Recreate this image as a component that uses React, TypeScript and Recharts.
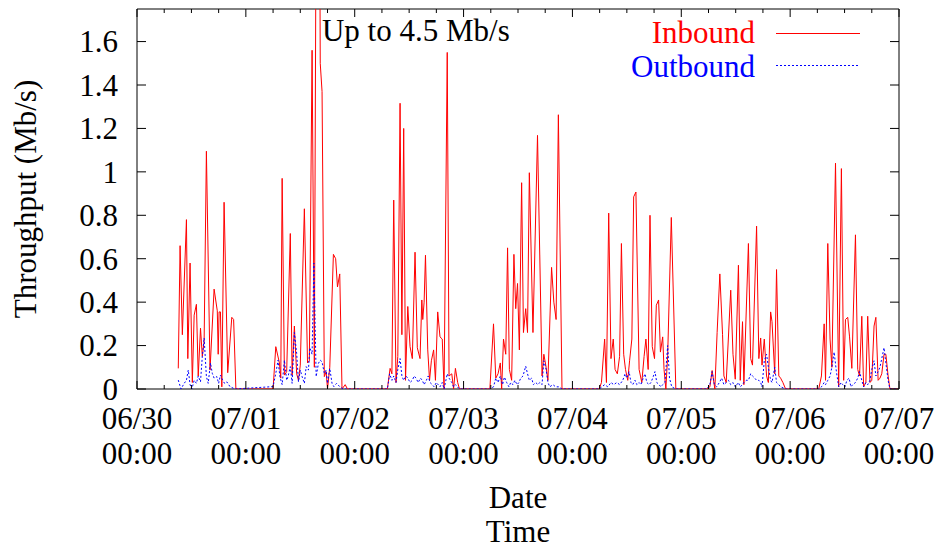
import React from 'react';
import { LineChart, Line, XAxis, YAxis, ReferenceArea, ReferenceDot, Legend } from 'recharts';

// hours counted from 06/30 00:00, throughput in Mb/s
const inboundHours = [
  9.1, 9.5, 10.0, 10.9, 11.2, 11.7, 12.2, 12.6, 13.1, 13.5, 14.0, 14.4, 14.8, 15.3, 16.1, 17.0, 17.7, 17.9, 18.1, 18.4, 18.7, 19.2, 20.0, 20.9, 21.3, 21.8,
  30.0, 30.6, 31.4, 31.7, 32.0, 32.5, 33.0, 33.8, 34.2, 34.7, 35.2, 35.6, 36.0, 36.9, 37.6, 38.0, 38.6, 39.1, 39.9, 40.4, 40.8, 41.3, 41.7, 42.0, 42.5, 43.3, 43.8, 44.2, 44.7, 45.2, 45.9, 46.4,
  55.2, 55.8, 56.2, 56.6, 57.1, 57.5, 58.0, 58.4, 58.8, 59.2, 59.7, 60.2, 60.7, 61.3, 61.8, 62.4, 62.8, 63.0, 63.3, 63.6, 64.1, 64.5, 64.9, 65.4, 65.8, 66.3, 66.8, 67.3, 67.7, 68.4, 68.8, 69.4, 69.8, 70.2, 70.7, 71.1,
  77.8, 78.6, 79.1, 79.6, 80.1, 80.4, 80.8, 81.3, 81.7, 82.1, 82.6, 83.1, 83.5, 83.9, 84.3, 84.8, 85.2, 85.7, 86.1, 86.5, 87.3, 88.3, 89.3, 89.7, 90.2, 90.6, 91.4, 91.9, 92.4, 92.9, 93.7,
  101.9, 102.4, 103.1, 103.5, 104.0, 104.5, 105.0, 105.4, 105.9, 106.4, 106.8, 107.3, 107.7, 108.2, 108.6, 109.1, 109.5, 110.0, 110.7, 111.3, 111.8, 112.2, 112.7, 113.1, 113.6, 114.1, 114.5, 115.0, 115.4, 115.9, 116.2, 116.6, 117.0, 117.8, 118.8,
  125.6, 126.3, 126.8, 127.4, 127.9, 128.5, 129.1, 129.4, 129.9, 130.9, 131.4, 131.9, 132.6, 133.0, 133.5, 133.8, 134.8, 135.3, 135.7, 136.6, 137.1, 137.5, 137.8, 138.3, 138.8, 139.2, 139.7, 140.0, 140.6, 141.0, 141.5, 141.9, 142.4, 143.0,
  150.3, 150.9, 151.5, 151.8, 152.3, 152.8, 153.2, 154.0, 154.7, 155.3, 155.8, 156.2, 156.7, 157.1, 157.6, 158.4, 158.9, 159.3, 159.8, 160.2, 160.7, 161.1, 161.6, 162.0, 162.5, 162.9, 163.4, 163.8, 164.2, 164.7, 165.1, 165.6, 166.0, 167.8,
];

const inboundMbps = [
  0.095, 0.66, 0.25, 0.78, 0.14, 0.58, 0.03, 0.34, 0.39, 0.06, 0.28, 0.15, 0.22, 1.095, 0.087, 0.46, 0.36, 0.16, 0.355, 0.355, 0.01, 0.86, 0.075, 0.33, 0.32, 0,
  0, 0.195, 0.12, 0.05, 0.97, 0.064, 0.08, 0.716, 0.064, 0.29, 0.07, 0.04, 0.11, 0.83, 0.12, 0.13, 1.56, 0.1, 4.5, 1.5, 1.37, 0.057, 0.08, 0, 0.1, 0.62, 0.6, 0.47, 0.53, 0, 0.02, 0,
  0, 0.095, 0.07, 0.87, 0.03, 0.15, 1.316, 0.25, 1.2, 0.04, 0.38, 0.195, 0.14, 0.63, 0.19, 0.14, 0.41, 0.32, 0.4, 0.616, 0.18, 0.04, 0.13, 0.18, 0.04, 0.355, 0.24, 0.23, 0, 1.55, 0.06, 0.07, 0, 0.095, 0.03, 0,
  0, 0.3, 0.05, 0.07, 0.12, 0, 0.23, 0.16, 0.65, 0.09, 0.04, 0.62, 0.37, 0.486, 0.18, 0.95, 0.26, 0.37, 0.26, 0.996, 0.26, 1.168, 0.06, 0.16, 0.1, 0.04, 0.56, 0.4, 0.32, 1.263, 0,
  0, 0.03, 0.23, 0.03, 0.81, 0.14, 0.23, 0.09, 0.07, 0.15, 0.67, 0.16, 0.09, 0.04, 0.13, 0.23, 0.885, 0.907, 0.09, 0.03, 0.15, 0.23, 0.09, 0.8, 0.195, 0.14, 0.386, 0.41, 0.17, 0.24, 0.09, 0, 0.155, 0.79, 0,
  0, 0.01, 0.085, 0, 0.26, 0.53, 0.25, 0.06, 0.03, 0.455, 0.16, 0.045, 0.57, 0.04, 0.31, 0.02, 0.67, 0.14, 0.11, 0.75, 0.14, 0.235, 0.11, 0.23, 0.06, 0.03, 0.355, 0.31, 0.07, 0.55, 0.06, 0.05, 0.03, 0,
  0, 0.06, 0.3, 0.04, 0.67, 0.23, 0.1, 1.04, 0.01, 1.015, 0.04, 0.32, 0.33, 0.24, 0.095, 0.71, 0.09, 0.06, 0.335, 0.01, 0.03, 0.335, 0.03, 0.04, 0.29, 0.33, 0.04, 0.05, 0.07, 0.16, 0.16, 0.06, 0, 0,
];

const outboundHours = [
  9.1, 9.7, 10.4, 10.9, 11.3, 11.7, 12.1, 12.6, 13.1, 13.5, 14.0, 14.4, 14.8, 15.3, 15.7, 16.2, 16.6, 17.0, 17.6, 18.0, 18.4, 18.9, 19.3, 19.8, 20.5, 21.6,
  30.0, 30.6, 31.1, 31.5, 32.0, 32.5, 33.0, 33.3, 33.8, 34.2, 34.7, 35.2, 35.6, 36.0, 36.4, 36.9, 37.3, 37.8, 38.1, 38.6, 39.0, 39.5, 40.0, 40.4, 40.8, 41.3, 41.7, 42.0, 42.5, 43.0, 43.4, 44.0, 44.7, 45.5,
  55.2, 55.7, 56.2, 56.6, 57.1, 57.5, 58.0, 58.4, 58.8, 59.3, 59.7, 60.2, 60.7, 61.1, 61.5, 62.0, 62.5, 62.9, 63.3, 63.8, 64.2, 64.6, 65.1, 65.5, 66.0, 66.4, 66.8, 67.3, 67.7, 68.4, 68.8, 69.4, 69.8, 70.2, 71.1,
  77.8, 78.6, 79.1, 79.6, 80.1, 80.6, 81.0, 81.5, 82.0, 82.4, 82.9, 83.3, 83.8, 84.2, 84.6, 85.1, 85.7, 86.1, 86.5, 87.0, 87.4, 87.9, 88.4, 88.8, 89.3, 89.7, 90.2, 90.6, 91.0, 91.7, 92.3, 93.0, 93.7,
  101.9, 102.5, 103.1, 103.8, 104.5, 105.1, 105.8, 106.4, 107.1, 107.6, 108.0, 108.5, 108.9, 109.3, 109.8, 110.2, 110.7, 111.1, 111.6, 112.0, 112.4, 112.9, 113.3, 113.7, 114.2, 114.6, 115.1, 115.5, 115.9, 116.4, 117.0, 117.4, 117.9, 118.8,
  125.6, 126.3, 126.8, 127.3, 127.8, 128.4, 128.9, 129.4, 129.9, 130.4, 130.9, 131.4, 131.9, 132.6, 133.0, 133.5, 133.8, 134.3, 134.8, 135.3, 135.7, 136.2, 136.6, 137.1, 137.5, 137.8, 138.3, 138.8, 139.2, 139.7, 140.0, 140.6, 141.0, 141.5, 141.9, 143.0,
  150.3, 150.9, 151.5, 151.8, 152.3, 152.8, 153.2, 153.7, 154.2, 154.7, 155.2, 155.6, 156.1, 156.5, 157.0, 157.4, 157.8, 158.4, 158.9, 159.3, 159.8, 160.2, 160.7, 161.1, 161.6, 162.0, 162.5, 162.9, 163.4, 163.8, 164.2, 164.7, 165.1, 165.6, 166.0, 167.8,
];

const outboundMbps = [
  0.041, 0, 0.026, 0.04, 0.087, 0.02, 0, 0.04, 0.026, 0.06, 0.033, 0.15, 0.235, 0.057, 0.026, 0.12, 0.072, 0.05, 0.057, 0.026, 0.064, 0.04, 0.026, 0.033, 0.011, 0,
  0.011, 0.072, 0.133, 0.057, 0.02, 0.133, 0.04, 0.057, 0.103, 0.026, 0.26, 0.164, 0.033, 0.087, 0.057, 0.026, 0.103, 0.087, 0.19, 0.16, 0.58, 0.057, 0.118, 0.133, 0.125, 0.072, 0.087, 0.026, 0.095, 0.026, 0.011, 0.026, 0.011, 0,
  0, 0.07, 0.04, 0.06, 0.03, 0.09, 0.14, 0.06, 0.04, 0.06, 0.05, 0.03, 0.04, 0.06, 0.05, 0.03, 0.05, 0.04, 0.02, 0.04, 0.06, 0.03, 0.02, 0.01, 0.03, 0.02, 0.01, 0.03, 0, 0.07, 0.05, 0.03, 0.01, 0.02, 0,
  0, 0.01, 0.05, 0.03, 0.06, 0.02, 0.055, 0.03, 0.01, 0.03, 0.02, 0.04, 0.02, 0.03, 0.05, 0.06, 0.105, 0.07, 0.04, 0.05, 0.02, 0.03, 0.02, 0.03, 0.02, 0.13, 0.09, 0.03, 0.01, 0.02, 0.01, 0.01, 0,
  0, 0.01, 0.02, 0.01, 0.03, 0.02, 0.03, 0.02, 0.04, 0.07, 0.05, 0.08, 0.03, 0.02, 0.04, 0.02, 0.03, 0.02, 0.05, 0.07, 0.03, 0.02, 0.03, 0.05, 0.08, 0.03, 0.02, 0.01, 0.02, 0.03, 0.2, 0.05, 0.01, 0,
  0, 0.02, 0.08, 0.02, 0.01, 0.03, 0.05, 0.02, 0.03, 0.04, 0.02, 0.03, 0.01, 0.03, 0.01, 0.02, 0.03, 0.04, 0.04, 0.07, 0.06, 0.05, 0.04, 0.04, 0.03, 0.01, 0.13, 0.16, 0.1, 0.04, 0.03, 0.1, 0.03, 0.02, 0.01, 0,
  0, 0.01, 0.03, 0.02, 0.04, 0.06, 0.1, 0.17, 0.08, 0.01, 0.03, 0.02, 0.01, 0.04, 0.05, 0.01, 0.02, 0.03, 0.05, 0.08, 0.04, 0.01, 0.03, 0.02, 0.04, 0.09, 0.13, 0.06, 0.08, 0.1, 0.14, 0.19, 0.12, 0.04, 0, 0,
];

const xTicks = [0, 6, 12, 18, 24, 30, 36, 42, 48, 54, 60, 66, 72, 78, 84, 90, 96, 102, 108, 114, 120, 126, 132, 138, 144, 150, 156, 162, 168];
const xTickLabels = ['06/30 00:00', '07/01 00:00', '07/02 00:00', '07/03 00:00', '07/04 00:00', '07/05 00:00', '07/06 00:00', '07/07 00:00'];
const yTicks = [0, 0.2, 0.4, 0.6, 0.8, 1, 1.2, 1.4, 1.6];

const X_MAX = 168;
const Y_MAX = 1.75;

const FONT = '"Liberation Serif", "Times New Roman", serif';
const FONT_SIZE = 31;
const INK = '#000';
const PLOT = { left: 137, top: 9, width: 762, height: 380 };
const SERIES_COLOR: Record<string, string> = { Inbound: '#ff0000', Outbound: '#0000ff' };

const textStyle = { fontFamily: FONT, fontSize: FONT_SIZE };

const inbound = inboundHours.map((h, i) => ({ h, v: inboundMbps[i] }));
const outbound = outboundHours.map((h, i) => ({ h, v: outboundMbps[i] }));

const peak = Math.max(...inboundMbps);
const peakHour = inboundHours[inboundMbps.indexOf(peak)];

// ticks point inward on both the bottom and the top edge (gnuplot style)
const renderXTick = (props: any) => {
    const {x, y, payload} = props;
    const h = payload.value;
    const major = h % 24 === 0;
    const len = major ? 8 : 4;
    const top = y - PLOT.height;
    const label = major ? xTickLabels[h / 24] : null;
    return (
        <g>
            <line x1={x} y1={y} x2={x} y2={y - len} stroke={INK}/>
            <line x1={x} y1={top} x2={x} y2={top + len} stroke={INK}/>
            {label && (
                <text x={x} y={y} textAnchor="middle" style={textStyle} fill={INK}>
                    <tspan x={x} dy={40}>{label.split(' ')[0]}</tspan>
                    <tspan x={x} dy={35}>{label.split(' ')[1]}</tspan>
                </text>
            )}
        </g>
    );
};

const renderYTick = (props: any) => {
    const {x, y, payload} = props;
    const right = x + PLOT.width;
    return (
        <g>
            <line x1={x} y1={y} x2={x + 9} y2={y} stroke={INK}/>
            <line x1={right} y1={y} x2={right - 9} y2={y} stroke={INK}/>
            <text x={x - 19} y={y} dy="0.35em" textAnchor="end" style={textStyle} fill={INK}>
                {String(payload.value)}
            </text>
        </g>
    );
};

const renderXTitle = (props: any) => {
    const vb = props.viewBox;
    const cx = vb.x + vb.width / 2;
    return (
        <text x={cx} y={vb.y} textAnchor="middle" style={textStyle} fill={INK}>
            <tspan x={cx} dy={119}>Date</tspan>
            <tspan x={cx} dy={34}>Time</tspan>
        </text>
    );
};

const renderYTitle = (props: any) => {
    const vb = props.viewBox;
    const cx = vb.x + 36;
    const cy = vb.y + vb.height / 2;
    return (
        <text x={cx} y={cy} transform={`rotate(-90 ${cx} ${cy})`} textAnchor="middle" style={textStyle} fill={INK}>
            Throughput (Mb/s)
        </text>
    );
};

const renderPeakNote = (props: any) => {
    const vb = props.viewBox;
    return (
        <text x={vb.x + 4} y={vb.y + 32} style={textStyle} fill={INK}>
            {`Up to ${peak} Mb/s`}
        </text>
    );
};

const renderLegend = (props: any) => {
    const items = props.payload || [];
    return (
        <svg width={280} height={80} style={{display: 'block'}}>
            {items.map((entry: any, i: number) => {
                const color = SERIES_COLOR[entry.value] || entry.color;
                return (
                    <g key={entry.value}>
                        <text x={155} y={29 + i * 34} textAnchor="end" style={textStyle} fill={color}>{entry.value}</text>
                        <line x1={176} x2={260} y1={19.5 + i * 32} y2={19.5 + i * 32} stroke={color}
                              strokeDasharray={i === 1 ? '2 2' : undefined}/>
                    </g>
                );
            })}
        </svg>
    );
};

export default function App() {
    return (
        <div style={{position: 'absolute', left: 0, top: 0, background: '#fff'}}>
            <LineChart width={938} height={548} margin={{top: PLOT.top, right: 938 - PLOT.left - PLOT.width, bottom: 0, left: 0}}>
                <XAxis dataKey="h" type="number" domain={[0, X_MAX]} ticks={xTicks} interval={0}
                       height={159} axisLine={false} tickLine={false} tickSize={0} tickMargin={0}
                       tick={renderXTick} label={renderXTitle}/>
                <YAxis type="number" domain={[0, Y_MAX]} ticks={yTicks} interval={0} allowDataOverflow
                       width={PLOT.left} axisLine={false} tickLine={false} tickSize={0} tickMargin={0}
                       tick={renderYTick} label={renderYTitle}/>
                <ReferenceArea x1={0} x2={X_MAX} y1={0} y2={Y_MAX} fill="none" fillOpacity={0}
                               stroke={INK} strokeWidth={1}/>
                <Line data={inbound} dataKey="v" name="Inbound" type="linear" stroke={SERIES_COLOR.Inbound} strokeWidth={1}
                      dot={false} activeDot={false} isAnimationActive={false}/>
                <Line data={outbound} dataKey="v" name="Outbound" type="linear" stroke={SERIES_COLOR.Outbound} strokeWidth={1}
                      strokeDasharray="2 2" dot={false} activeDot={false} isAnimationActive={false}/>
                <ReferenceDot x={peakHour} y={Y_MAX} r={0} fill="none" stroke="none" label={renderPeakNote}/>
                <Legend layout="vertical" align="center" verticalAlign="middle" content={renderLegend}
                        wrapperStyle={{left: 600, top: 14, width: 280, height: 80}}/>
            </LineChart>
        </div>
    );
}
